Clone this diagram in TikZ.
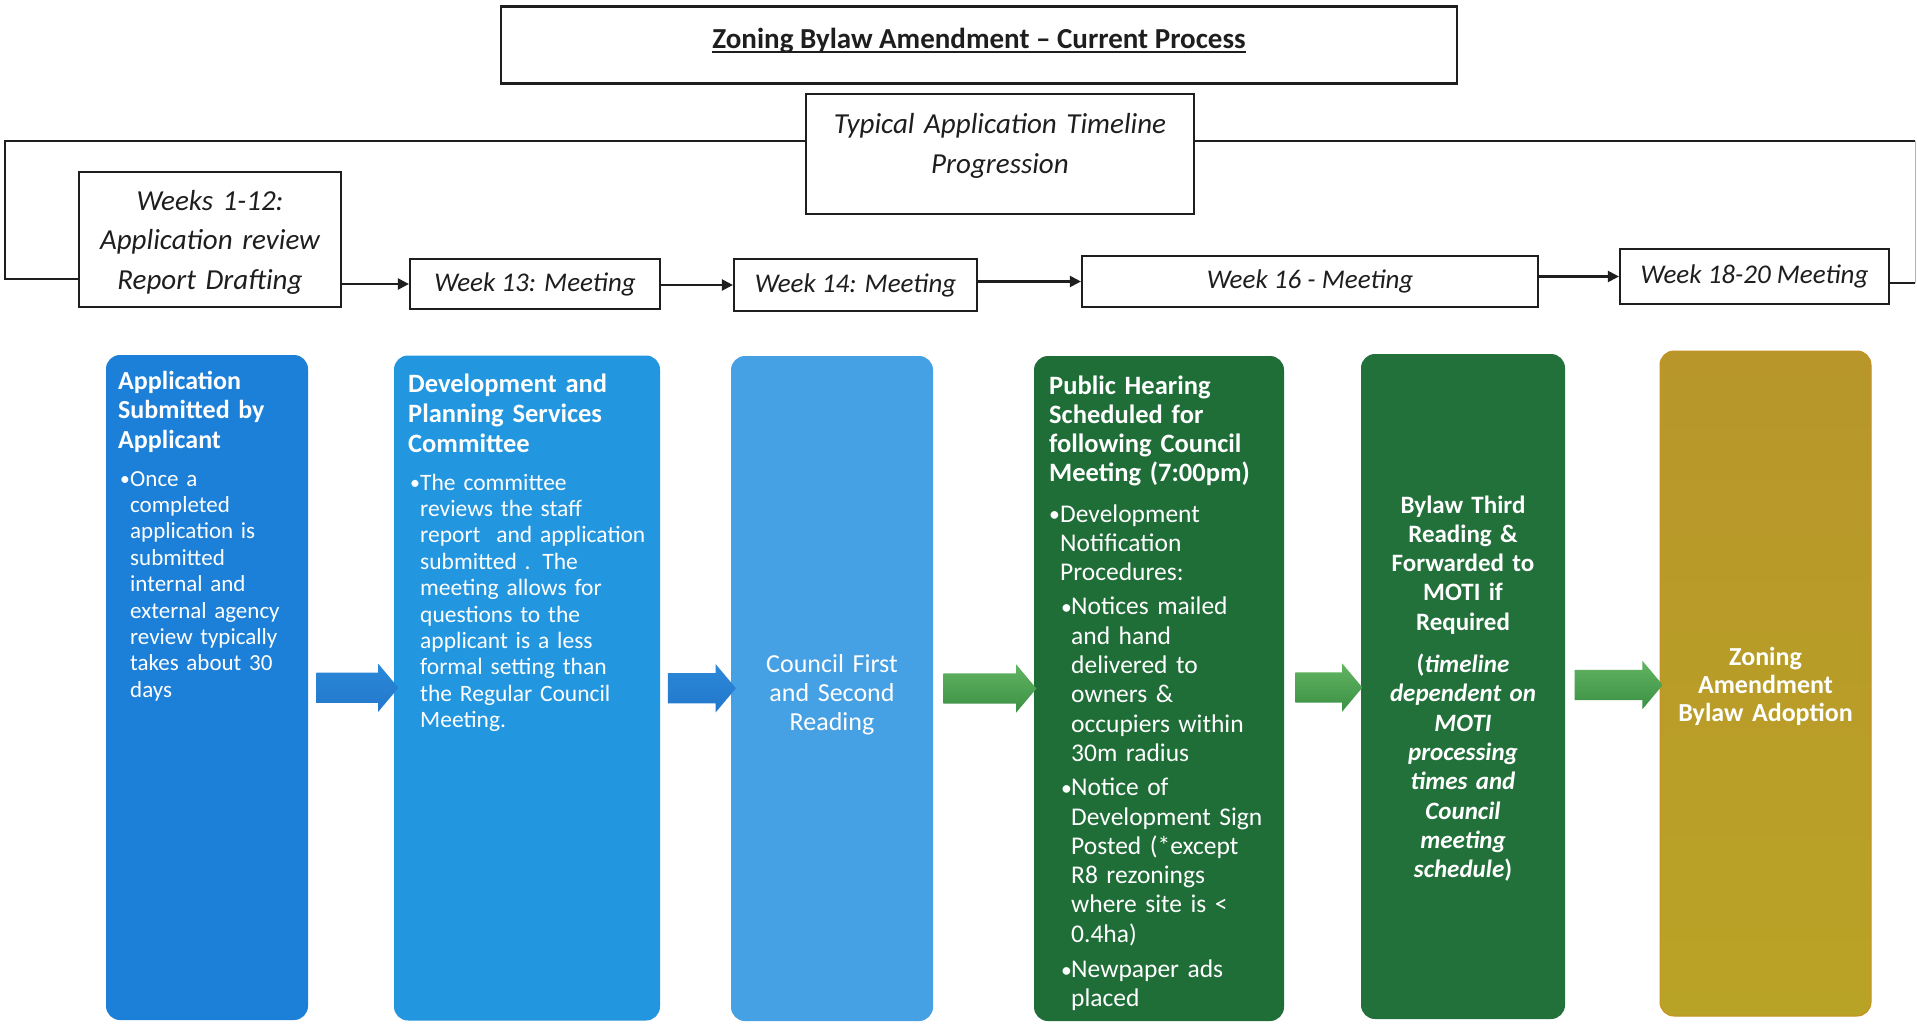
\documentclass[tikz,border=0pt]{standalone}
\usepackage{fontspec}
\setmainfont{Carlito}
\usetikzlibrary{arrows.meta,shapes.arrows}
\newcommand\mybul[1]{\makebox[#1][l]{\raisebox{0.5pt}{\scalebox{0.85}{•}}}}
\newcommand\myind[1]{\hspace*{#1}}
\definecolor{cA}{HTML}{1C80D8}
\definecolor{cB}{HTML}{2396E0}
\definecolor{cC}{HTML}{46A0E4}
\definecolor{cD}{HTML}{1F6E38}
\definecolor{cE}{HTML}{22703A}
\definecolor{cF}{HTML}{B9A326}
\definecolor{cFtop}{HTML}{B8962A}
\definecolor{arB}{HTML}{2B88D8}
\definecolor{arBd}{HTML}{2378CC}
\definecolor{arG}{HTML}{4AA04E}
\definecolor{arGl}{HTML}{62B462}
\definecolor{arGd}{HTML}{3A9043}
\definecolor{ink}{HTML}{1E1E1E}
\begin{document}
\begin{tikzpicture}[x=1pt,y=-1pt,
  frame/.style={draw=ink, line width=2.2pt},
  hbox/.style={draw=ink, line width=2.2pt, fill=white, inner sep=0pt, text=ink},
  conn/.style={draw=ink, line width=2.2pt, -{Triangle[length=11pt,width=11pt]}},
  card/.style={rounded corners=14pt, inner sep=0pt, minimum height=665pt},
  barrow/.style={single arrow, single arrow head extend=9pt, single arrow tip angle=100, inner xsep=0pt, inner ysep=15pt, minimum width=48pt},
  bluearrow/.style={barrow, top color=arB, bottom color=arBd},
  greenarrow/.style={barrow, top color=arGl, bottom color=arGd},
  wtxt/.style={text=white, inner sep=0pt, align=left, text width=260pt, anchor=base west},
  ctxt/.style={text=white, inner sep=0pt, align=center, anchor=base},
  ttxt/.style={text=ink, inner sep=0pt, align=center, anchor=base},
  wkfont/.style={font=\fontsize{27}{32}\selectfont\itshape},
]
\useasboundingbox (0,0) rectangle (1917,1023);
\fill[white] (0,0) rectangle (1917,1023);

% ---------- top boxes ----------
\node[hbox, minimum width=956pt, minimum height=77pt] (title) at (979,45) {};
\node[ttxt, font=\fontsize{29}{34}\selectfont\bfseries] (titletxt) at (979,48) {Zoning Bylaw Amendment – Current Process};
\draw[ink, line width=1.8pt] ([yshift=-4pt]titletxt.base west) -- ([yshift=-4pt]titletxt.base east);

\node[hbox, minimum width=388pt, minimum height=120pt] (sub) at (1000,154) {};
\node[ttxt, text width=380pt, font=\fontsize{29}{40}\selectfont\itshape] (subtxt) at (1000,133) {Typical Application Timeline\\Progression};

\node[hbox, minimum width=262pt, minimum height=135pt] (wk) at (210,239.5) {};
\node[ttxt, text width=260pt, font=\fontsize{29}{39.5}\selectfont\itshape] (wktxt) at (210,210) {Weeks 1-12:\\Application review\\Report Drafting};

\node[hbox, wkfont, minimum width=250pt, minimum height=50pt] (w13) at (535,284) {Week 13: Meeting};
\node[hbox, wkfont, minimum width=243pt, minimum height=52pt] (w14) at (855.5,285) {Week 14: Meeting};
\node[hbox, wkfont, minimum width=456pt, minimum height=51pt] (w16) at (1310,281.5) {Week 16 - Meeting};
\node[hbox, wkfont, minimum width=269pt, minimum height=55pt] (w18) at (1754.5,276.5) {Week 18-20 Meeting};

% ---------- frame lines ----------
\coordinate (ftl) at (5,141);
\coordinate (fbl) at (5,279);
\coordinate (ftr) at (1915,141);
\coordinate (fbr) at (1915,283);
\draw[frame] (wk.west |- fbl) -- (fbl) -- (ftl) -- (sub.west |- ftl);
\draw[frame] (sub.east |- ftl) -- (ftr);
\draw[frame] (w18.east |- fbr) -- (fbr);
\draw[black!30, line width=1pt] (ftr) -- (fbr);

\draw[conn] (wk.east |- w13.west) -- (w13.west);
\draw[conn] (w13.east |- w14.west) -- (w14.west);
\draw[conn] (w14.east |- w16.west) -- (w16.west);
\draw[conn] (w16.east |- w18.west) -- (w18.west);

% ---------- cards ----------
\node[card, fill=cA, minimum width=202pt] (b1) at (207,687.5) {};
\node[card, fill=cB, minimum width=266pt] (b2) at (527,688) {};
\node[card, fill=cC, minimum width=202pt] (b3) at (832,688.5) {};
\node[card, fill=cD, minimum width=250pt] (b4) at (1159,688.5) {};
\node[card, fill=cE, minimum width=204pt] (b5) at (1463,686.5) {};
\node[card, top color=cFtop, bottom color=cF, draw=cFtop!80!orange, line width=1pt, minimum width=211pt] (b6) at (1765.5,683.5) {};

% ---------- block arrows ----------
\path (b1.east) -- (b2.west) node[bluearrow, minimum height=82pt, midway] (a1) {};
\path (b2.east) -- (b3.west) node[bluearrow, minimum height=68pt, midway] (a2) {};
\path (b3.east) -- (b4.west) node[greenarrow, minimum height=93pt, midway] (a3) {};
\path (b4.east) -- (b5.west) node[greenarrow, minimum height=67pt, midway] (a4) {};
\path (b5.east) -- (b6.west) node[greenarrow, minimum height=88pt, midway] (a5) {};

% ---------- card texts ----------
\node[wtxt, font=\fontsize{26}{29.5}\selectfont\bfseries] (t1) at (118,389) {Application\\Submitted by\\Applicant};
\node[wtxt, font=\fontsize{23}{26.4}\selectfont] (p1) at (120,486) {\mybul{10pt}Once a\\\myind{10pt}completed\\\myind{10pt}application is\\\myind{10pt}submitted\\\myind{10pt}internal and\\\myind{10pt}external agency\\\myind{10pt}review typically\\\myind{10pt}takes about 30\\\myind{10pt}days};

\node[wtxt, font=\fontsize{26.5}{30}\selectfont\bfseries] (t2) at (408,392) {Development and\\Planning Services\\Committee};
\node[wtxt, font=\fontsize{23.5}{26.4}\selectfont] (p2) at (410,490) {\mybul{10pt}The committee\\\myind{10pt}reviews the staff\\\myind{10pt}report\ \ and application\\\myind{10pt}submitted . The\\\myind{10pt}meeting allows for\\\myind{10pt}questions to the\\\myind{10pt}applicant is a less\\\myind{10pt}formal setting than\\\myind{10pt}the Regular Council\\\myind{10pt}Meeting.};

\node[ctxt, text width=200pt, font=\fontsize{26}{29.3}\selectfont] (t3) at (832,672) {Council First\\and Second\\Reading};

\node[wtxt, font=\fontsize{26.5}{29.3}\selectfont\bfseries] (t4) at (1049,394) {Public Hearing\\Scheduled for\\following Council\\Meeting (7:00pm)};
\node[wtxt, font=\fontsize{25.5}{29.3}\selectfont] (p4) at (1049,522) {\mybul{11pt}Development\\\myind{11pt}Notification\\\myind{11pt}Procedures:\\[5pt]\myind{12pt}\mybul{10pt}Notices mailed\\\myind{22pt}and hand\\\myind{22pt}delivered to\\\myind{22pt}owners \&\\\myind{22pt}occupiers within\\\myind{22pt}30m radius\\[5pt]\myind{12pt}\mybul{10pt}Notice of\\\myind{22pt}Development Sign\\\myind{22pt}Posted (*except\\\myind{22pt}R8 rezonings\\\myind{22pt}where site is <\\\myind{22pt}0.4ha)\\[6pt]\myind{12pt}\mybul{10pt}Newpaper ads\\\myind{22pt}placed};

\node[ctxt, text width=204pt, font=\fontsize{25}{29.3}\selectfont\bfseries] (t5) at (1463,513) {Bylaw Third\\Reading \&\\Forwarded to\\MOTI if\\Required\\[13pt](\textit{timeline}\\\textit{dependent on}\\\textit{MOTI}\\\textit{processing}\\\textit{times and}\\\textit{Council}\\\textit{meeting}\\\textit{schedule})};

\node[ctxt, text width=211pt, font=\fontsize{26}{28}\selectfont\bfseries] (t6) at (1765.5,665.5) {Zoning\\Amendment\\Bylaw Adoption};
\end{tikzpicture}
\end{document}
